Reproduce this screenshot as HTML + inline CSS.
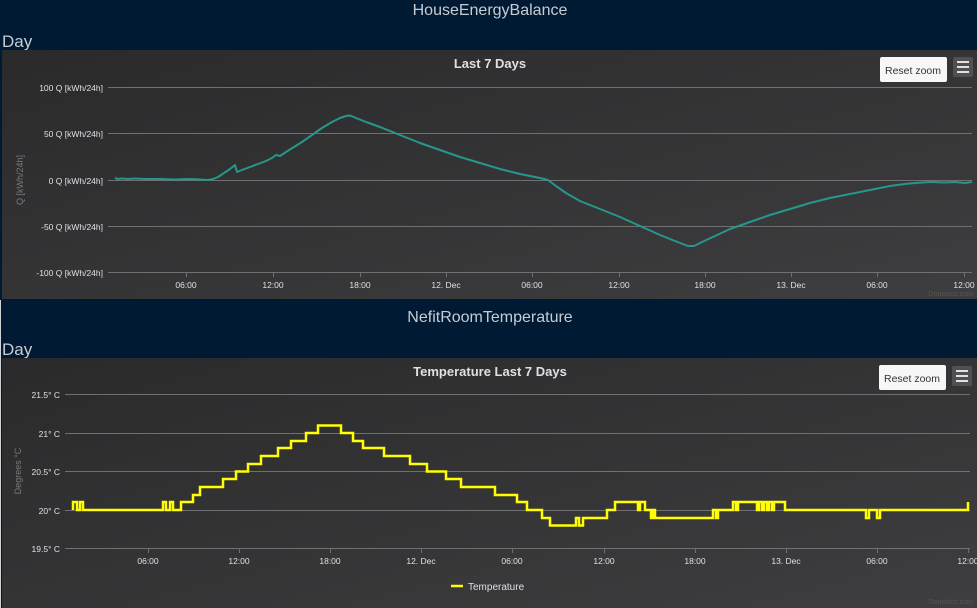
<!DOCTYPE html>
<html><head><meta charset="utf-8"><style>
html,body{margin:0;padding:0;width:977px;height:608px;overflow:hidden;background:#001a33;font-family:"Liberation Sans",sans-serif}
svg{position:absolute;left:0;top:0}
</style></head><body>
<svg width="977" height="608" viewBox="0 0 977 608" xmlns="http://www.w3.org/2000/svg" font-family="Liberation Sans, sans-serif">
<defs>
<linearGradient id="bg" x1="0" y1="0" x2="1" y2="1"><stop offset="0" stop-color="#2a2a2b"/><stop offset="1" stop-color="#3e3e40"/></linearGradient>
</defs>
<rect width="977" height="608" fill="#001a33"/>
<text x="490" y="15" fill="#c8ccd2" font-size="16" text-anchor="middle">HouseEnergyBalance</text>
<text x="2" y="47" fill="#c8ccd2" font-size="17">Day</text>
<rect x="2" y="50" width="975" height="249" fill="url(#bg)"/>
<text x="490" y="68" fill="#e0e0e3" font-size="13" font-weight="bold" text-anchor="middle">Last 7 Days</text>
<rect x="880" y="57" width="67" height="25" rx="2" fill="#f7f7f7"/>
<text x="913" y="74" fill="#333" font-size="10.5" text-anchor="middle">Reset zoom</text>
<rect x="953" y="57" width="20" height="20" rx="2" fill="#505053"/>
<path d="M957,62h12M957,67h12M957,72h12" stroke="#e0e0e3" stroke-width="2"/>
<g stroke="#707073" stroke-width="1">
<path d="M108,87.5H972M108,133.5H972M108,180.5H972M108,226.5H972M108,272.5H972"/>
<path d="M186.5,272v5M273.5,272v5M360.5,272v5M446.5,272v5M532.5,272v5M619.5,272v5M705.5,272v5M791.5,272v5M877.5,272v5M964.5,272v5"/>
</g>
<g fill="#e0e0e3" font-size="8.5" text-anchor="end">
<text x="103" y="91">100 Q [kWh/24h]</text><text x="103" y="137">50 Q [kWh/24h]</text><text x="103" y="184">0 Q [kWh/24h]</text><text x="103" y="230">-50 Q [kWh/24h]</text><text x="103" y="276">-100 Q [kWh/24h]</text>
</g>
<g fill="#e0e0e3" font-size="8.5" text-anchor="middle">
<text x="186" y="288">06:00</text><text x="273" y="288">12:00</text><text x="360" y="288">18:00</text><text x="446" y="288">12. Dec</text><text x="532" y="288">06:00</text><text x="619" y="288">12:00</text><text x="705" y="288">18:00</text><text x="791" y="288">13. Dec</text><text x="877" y="288">06:00</text><text x="964" y="288">12:00</text>
</g>
<text transform="translate(23,180) rotate(-90)" fill="#7a7a7d" font-size="9" text-anchor="middle">Q [kWh/24h]</text>
<text x="973" y="296" fill="#555" font-size="7" text-anchor="end">Domoticz.com</text>
<path fill="none" stroke="#27968d" stroke-width="2" stroke-linejoin="round" d="M115,178 L118,179 L122,178.5 L128,179 L135,178.5 L145,179 L160,179 L175,179.5 L190,179 L200,179.5 L208,180 L213,179 L218,177 L224,173 L230,169 L235,165 L237,172 L242,170 L250,167 L258,164 L266,161 L272,158 L276,155 L280,156 L286,152 L294,147 L302,142 L312,135 L322,128 L332,122 L340,118 L346,116 L350,115.5 L356,118 L366,122 L380,127 L400,135 L420,143 L440,150 L460,157 L480,163 L500,169 L520,174 L540,178 L548,180 L556,186 L566,193 L580,201 L600,209 L620,217 L640,226 L660,235 L675,241 L688,246 L694,246 L702,242 L715,236 L730,229 L750,222 L770,215 L790,209 L810,203 L830,198 L850,194 L870,190 L890,186 L905,184 L915,183 L930,182 L945,182.5 L955,182 L965,183 L972,182"/>

<rect x="0" y="300" width="1" height="308" fill="#cfd3d8"/>
<text x="490" y="322" fill="#c8ccd2" font-size="16" text-anchor="middle">NefitRoomTemperature</text>
<text x="2" y="355" fill="#c8ccd2" font-size="17">Day</text>
<rect x="2" y="358" width="975" height="250" fill="url(#bg)"/>
<text x="490" y="376" fill="#e0e0e3" font-size="13" font-weight="bold" text-anchor="middle">Temperature Last 7 Days</text>
<rect x="879" y="365" width="67" height="25" rx="2" fill="#f7f7f7"/>
<text x="912" y="382" fill="#333" font-size="10.5" text-anchor="middle">Reset zoom</text>
<rect x="952" y="366" width="20" height="20" rx="2" fill="#505053"/>
<path d="M956,371h12M956,376h12M956,381h12" stroke="#e0e0e3" stroke-width="2"/>
<g stroke="#707073" stroke-width="1">
<path d="M65,394.5H970M65,433.5H970M65,471.5H970M65,510.5H970M65,548.5H970"/>
<path d="M148.5,548v5M239.5,548v5M330.5,548v5M421.5,548v5M512.5,548v5M604.5,548v5M695.5,548v5M786.5,548v5M877.5,548v5M968.5,548v5"/>
</g>
<g fill="#e0e0e3" font-size="8.5" text-anchor="end">
<text x="60" y="398">21.5° C</text><text x="60" y="437">21° C</text><text x="60" y="475">20.5° C</text><text x="60" y="514">20° C</text><text x="60" y="552">19.5° C</text>
</g>
<g fill="#e0e0e3" font-size="8.5" text-anchor="middle">
<text x="148" y="564">06:00</text><text x="239" y="564">12:00</text><text x="330" y="564">18:00</text><text x="421" y="564">12. Dec</text><text x="512" y="564">06:00</text><text x="604" y="564">12:00</text><text x="695" y="564">18:00</text><text x="786" y="564">13. Dec</text><text x="877" y="564">06:00</text><text x="968" y="564">12:00</text>
</g>
<text transform="translate(21,471) rotate(-90)" fill="#7a7a7d" font-size="9" text-anchor="middle">Degrees °C</text>
<path fill="none" stroke="#ffff00" stroke-width="2.5" stroke-linejoin="miter" d="M73,510 V502 H77 V510 H80 V502 H83 V510 H163 V502 H166 V510 H170 V502 H173 V510 H181 V502 H193 V495 H200 V487 H223 V479 H236 V471.5 H248 V464 H261 V456 H278 V448 H291 V441 H306 V433 H318 V425.5 H341 V433 H353 V441 H363 V448 H384 V456 H410 V464 H427 V471.5 H446 V479 H461 V487 H495 V495 H517 V502 H527 V510 H542 V518 H550 V525.5 H576 V518 H579 V525.5 H583 V518 H607 V510 H615 V502 H638 V510 H640 V502 H645 V510 H651 V518 H653 V510 H655 V518 H713 V510 H716 V518 H718 V510 H733 V502 H736 V510 H738 V502 H757 V510 H759 V502 H762 V510 H764 V502 H767 V510 H769 V502 H772 V510 H774 V502 H785 V510 H866 V518 H869 V510 H877 V518 H880 V510 H968 V502"/>
<path d="M451,586h12" stroke="#ffff00" stroke-width="2.5"/>
<text x="468" y="590" fill="#e0e0e3" font-size="10">Temperature</text>
<text x="973" y="604" fill="#555" font-size="7" text-anchor="end">Domoticz.com</text>
</svg>
</body></html>
